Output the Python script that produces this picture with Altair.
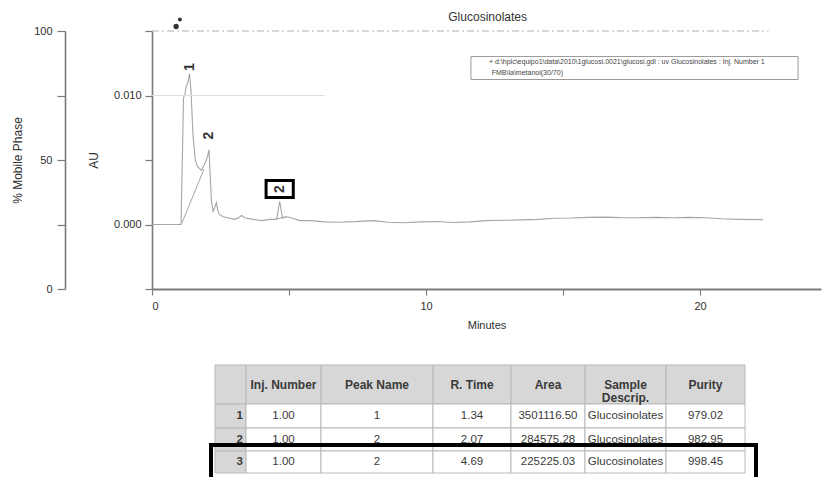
import altair as alt
import pandas as pd

FONT = "Liberation Sans"

# ---------------- chromatogram data ----------------
TIME = [0.0, 0.5, 1.06, 1.15, 1.20, 1.25, 1.31, 1.37, 1.42, 1.50,
        1.58, 1.66, 1.80, 1.90, 1.98, 2.03, 2.08, 2.12, 2.17, 2.23,
        2.30, 2.35, 2.40, 2.45, 2.60, 2.80, 3.00, 3.15, 3.27, 3.40,
        3.70, 4.00, 4.30, 4.55, 4.66, 4.76, 4.90, 5.10, 5.40, 5.80,
        6.30, 6.80, 7.40, 8.10, 8.60, 9.20, 9.80, 10.40, 11.00, 11.60,
        12.20, 12.90, 13.50, 14.10, 14.70, 15.30, 15.90, 16.50, 17.10, 17.70,
        18.40, 19.00, 19.60, 20.20, 20.80, 21.40, 22.30]
AU = [0.0, 0.0, 0.0, 0.0098, 0.0101, 0.0107, 0.0110, 0.0117, 0.0105, 0.0068,
      0.0050, 0.0045, 0.0042, 0.0046, 0.0050, 0.0053, 0.0058, 0.0040, 0.0018, 0.0010,
      0.0014, 0.0017, 0.0011, 0.0008, 0.0006, 0.0005, 0.0004, 0.0005, 0.0007, 0.0005,
      0.0004, 0.0003, 0.0004, 0.0004, 0.0018, 0.0005, 0.0006, 0.0005, 0.0003, 0.0003,
      0.0002, 0.00018, 0.00022, 0.0003, 0.00018, 0.00013, 0.0002, 0.00023, 0.00015, 0.0002,
      0.0003, 0.00033, 0.00036, 0.0004, 0.00048, 0.0005, 0.00055, 0.00057, 0.00053, 0.00052,
      0.00055, 0.00052, 0.00055, 0.00052, 0.00044, 0.0004, 0.00038]

# integration baselines (segment id, time, AU)
INTEG_SEG = [1, 1, 2, 2]
INTEG_T = [1.07, 1.90, 4.50, 4.90]
INTEG_AU = [0.0, 0.0043, 0.0004, 0.0006]

# peak labels
PEAK_LABELS = ["1", "2"]
PEAK_LABEL_T = [1.39, 2.07]
PEAK_LABEL_AU = [0.0122, 0.0069]
BOXED_LABEL = ["2"]
BOXED_T = [4.66]
BOXED_AU = [0.00275]

# injection marker above the plot
MARK_T = [0.88, 1.02]
MARK_AU = [0.01535, 0.0159]
MARK_SIZE = [28, 16]

# faint reference line at 0.010 AU
FAINT_T = [0.0, 6.3]
FAINT_AU = [0.010, 0.010]

# mobile phase line (%)
MP_T = [0.0, 22.5]
MP_PCT = [100, 100]

# chart title, placed above the plot
TITLE = ["Glucosinolates"]
TITLE_T = [12.25]
TITLE_AU = [0.01608]

# legend box
LEGEND_T = [11.64, 23.58]
LEGEND_AU = [0.01124, 0.01302]
LEGEND_LINES = [r"+ d:\hplc\equipo1\data\2010\1glucosi.0021\glucosi.gdl : uv   Glucosinolates : Inj. Number 1",
                r"FMB\la\metanol(30/70)"]
LEGEND_LINE_T = [12.30, 12.40]
LEGEND_LINE_AU = [0.01256, 0.01171]

# ---------------- table data ----------------
COL_HEADERS = ["", "Inj. Number", "Peak Name", "R. Time", "Area", "Sample\nDescrip.", "Purity"]
ROW_NUM = ["1", "2", "3"]
INJ = ["1.00", "1.00", "1.00"]
PEAK = ["1", "2", "2"]
RTIME = ["1.34", "2.07", "4.69"]
AREA = ["3501116.50", "284575.28", "225225.03"]
SAMPLE = ["Glucosinolates", "Glucosinolates", "Glucosinolates"]
PURITY = ["979.02", "982.95", "998.45"]
HIGHLIGHT_ROW = 3

# ---------------- layout ----------------
W, H = 669, 258
PX_PER_MIN = 27.4
X_DOMAIN = [0, W / PX_PER_MIN]
AU_DOMAIN = [-0.005, 0.015]
COL_W = [31, 75, 112, 78, 74, 81, 79]
ROW_H = [39, 24, 23, 22]
TABLE_LEFT = 63      # px from plot left
TABLE_TOP = 334      # px from plot top
BOX_PAD_L, BOX_PAD_R, BOX_PAD_T, BOX_EXTRA_B = 4, 11, 6, 40

AXIS_COLOR = "#7a7a7a"
TEXT_COLOR = "#2e2e2e"
TRACE_COLOR = "#a6a6a6"

# ---------------- chromatogram layer ----------------
xs = alt.Scale(domain=X_DOMAIN, nice=False, zero=False)
ys = alt.Scale(domain=AU_DOMAIN, nice=False, zero=False)

x_axis = alt.Axis(values=[0, 5, 10, 15, 20],
                  labelExpr="datum.value % 10 === 0 ? datum.label : ''",
                  title="Minutes", tickSize=6, labelPadding=5, titlePadding=8,
                  domainColor=AXIS_COLOR, domainWidth=1.8, tickColor=AXIS_COLOR,
                  tickWidth=1.2, labelColor=TEXT_COLOR, labelFontSize=11,
                  labelFont=FONT, titleFont=FONT, titleFontSize=11,
                  titleFontWeight="normal", titleColor=TEXT_COLOR, grid=False)
y_axis = alt.Axis(values=[-0.005, 0, 0.005, 0.01, 0.015], format=".3f",
                  labelExpr="(datum.value == 0 || datum.value == 0.01) ? datum.label : ''",
                  title="AU", tickSize=7, labelPadding=4, titlePadding=13,
                  domainColor=AXIS_COLOR, domainWidth=1.6, tickColor=AXIS_COLOR,
                  tickWidth=1.2, labelColor=TEXT_COLOR, labelFontSize=11,
                  labelFont=FONT, titleFont=FONT, titleFontSize=12,
                  titleFontWeight="normal", titleColor=TEXT_COLOR, grid=False)

trace_df = pd.DataFrame({"t": TIME, "au": AU})
trace = alt.Chart(trace_df).mark_line(color=TRACE_COLOR, strokeWidth=1.1).encode(
    x=alt.X("t:Q", scale=xs, axis=x_axis),
    y=alt.Y("au:Q", scale=ys, axis=y_axis),
)

integ_df = pd.DataFrame({"seg": INTEG_SEG, "t": INTEG_T, "au": INTEG_AU})
integ = alt.Chart(integ_df).mark_line(color=TRACE_COLOR, strokeWidth=1).encode(
    x="t:Q", y="au:Q", detail="seg:N")

faint_df = pd.DataFrame({"t": FAINT_T, "au": FAINT_AU})
faint = alt.Chart(faint_df).mark_line(color="#e0e0e0", strokeWidth=1).encode(
    x="t:Q", y="au:Q")

lab_df = pd.DataFrame({"t": PEAK_LABEL_T, "au": PEAK_LABEL_AU, "lab": PEAK_LABELS})
labels = alt.Chart(lab_df).mark_text(angle=270, font=FONT, fontSize=14,
                                     fontWeight="bold", color="#333333").encode(
    x="t:Q", y="au:Q", text="lab:N")

box_df = pd.DataFrame({"t": BOXED_T, "au": BOXED_AU, "lab": BOXED_LABEL})
boxframe = alt.Chart(box_df).mark_point(
    shape="M-1.6,-1H1.6V1H-1.6Z", size=289, filled=True, fill="white",
    stroke="black", strokeWidth=3, opacity=1).encode(x="t:Q", y="au:Q")
boxtext = alt.Chart(box_df).mark_text(angle=270, font=FONT, fontSize=14,
                                      fontWeight="bold", color="#333333").encode(
    x="t:Q", y="au:Q", text="lab:N")

mark_df = pd.DataFrame({"t": MARK_T, "au": MARK_AU, "s": MARK_SIZE})
marker = alt.Chart(mark_df).mark_point(filled=True, color="#333333", opacity=1).encode(
    x="t:Q", y="au:Q", size=alt.Size("s:Q", scale=None, legend=None))

title_df = pd.DataFrame({"t": TITLE_T, "au": TITLE_AU, "txt": TITLE})
title = alt.Chart(title_df).mark_text(font=FONT, fontSize=12, color="#333333").encode(
    x="t:Q", y="au:Q", text="txt:N")

leg_box_df = pd.DataFrame({"t": [LEGEND_T[0]], "t2": [LEGEND_T[1]],
                           "au": [LEGEND_AU[0]], "au2": [LEGEND_AU[1]]})
leg_box = alt.Chart(leg_box_df).mark_rect(filled=False, stroke="#9a9a9a",
                                          strokeWidth=1).encode(
    x="t:Q", x2="t2:Q", y="au:Q", y2="au2:Q")
leg_txt_df = pd.DataFrame({"t": LEGEND_LINE_T, "au": LEGEND_LINE_AU, "txt": LEGEND_LINES})
leg_txt = alt.Chart(leg_txt_df).mark_text(align="left", font=FONT, fontSize=7,
                                          color="#444444").encode(
    x="t:Q", y="au:Q", text="txt:N")

chrom = alt.layer(trace, faint, integ, labels, boxframe, boxtext, marker, title,
                  leg_box, leg_txt)

# ---------------- mobile phase layer ----------------
mp_df = pd.DataFrame({"t": MP_T, "pct": MP_PCT})
mp = alt.Chart(mp_df).mark_line(color="#b0b0b0", strokeWidth=1,
                                strokeDash=[7, 3, 2, 3]).encode(
    x=alt.X("t:Q", scale=alt.Scale(domain=X_DOMAIN, nice=False, zero=False), axis=None),
    y=alt.Y("pct:Q", scale=alt.Scale(domain=[0, 100], nice=False),
            axis=alt.Axis(orient="left", offset=87, values=[0, 25, 50, 75, 100],
                          labelExpr="datum.value % 50 === 0 ? datum.label : ''",
                          title="% Mobile Phase", tickSize=8, labelPadding=5,
                          titlePadding=9, domainColor=AXIS_COLOR, domainWidth=1.6,
                          tickColor=AXIS_COLOR, tickWidth=1.2, labelColor=TEXT_COLOR,
                          labelFontSize=11, labelFont=FONT, titleFont=FONT,
                          titleFontSize=12, titleFontWeight="normal",
                          titleColor=TEXT_COLOR, grid=False)),
)

# ---------------- table layer ----------------
col_edges = [0]
for w in COL_W:
    col_edges.append(col_edges[-1] + w)
row_edges = [0]
for h in ROW_H:
    row_edges.append(row_edges[-1] + h)

body_cols = [ROW_NUM, INJ, PEAK, RTIME, AREA, SAMPLE, PURITY]
cells = []
for r in range(4):
    for c in range(7):
        if r == 0:
            txt, kind = COL_HEADERS[c], "head"
        else:
            txt = body_cols[c][r - 1]
            kind = "head" if c == 0 else "body"
        cells.append({
            "x0": col_edges[c], "x1": col_edges[c + 1],
            "y0": row_edges[r], "y1": row_edges[r + 1],
            "cx": (col_edges[c] + col_edges[c + 1]) / 2,
            "rx": col_edges[c + 1] - 3,
            "cy": (row_edges[r] + row_edges[r + 1]) / 2,
            "txt": txt, "kind": kind,
            "role": "header" if r == 0 else ("rownum" if c == 0 else "body"),
        })
cell_df = pd.DataFrame(cells)

tx = alt.Scale(domain=[0, col_edges[-1]], range=[TABLE_LEFT, TABLE_LEFT + col_edges[-1]],
               nice=False, zero=False)
ty = alt.Scale(domain=[0, row_edges[-1]], range=[TABLE_TOP, TABLE_TOP + row_edges[-1]],
               nice=False, zero=False)

cell_rect = alt.Chart(cell_df).mark_rect(stroke="#b9b9b9", strokeWidth=1).encode(
    x=alt.X("x0:Q", scale=tx, axis=None), x2="x1:Q",
    y=alt.Y("y0:Q", scale=ty, axis=None), y2="y1:Q",
    fill=alt.Fill("kind:N", scale=alt.Scale(domain=["head", "body"],
                                            range=["#d7d7d7", "#ffffff"]), legend=None))
head_txt = alt.Chart(cell_df).transform_filter("datum.role == 'header'").mark_text(
    font=FONT, fontSize=12, fontWeight="bold", color="#3a3a3a", lineBreak="\n",
    lineHeight=13).encode(x="cx:Q", y="cy:Q", text="txt:N")
body_txt = alt.Chart(cell_df).transform_filter("datum.role == 'body'").mark_text(
    font=FONT, fontSize=11.5, color="#3a3a3a").encode(x="cx:Q", y="cy:Q", text="txt:N")
num_txt = alt.Chart(cell_df).transform_filter("datum.role == 'rownum'").mark_text(
    font=FONT, fontSize=11.5, fontWeight="bold", color="#3a3a3a", align="right").encode(
    x="rx:Q", y="cy:Q", text="txt:N")

hl_df = pd.DataFrame({"x0": [-BOX_PAD_L], "x1": [col_edges[-1] + BOX_PAD_R],
                      "y0": [row_edges[HIGHLIGHT_ROW] - BOX_PAD_T],
                      "y1": [row_edges[HIGHLIGHT_ROW + 1] + BOX_EXTRA_B]})
hl = alt.Chart(hl_df).mark_rect(filled=False, stroke="black", strokeWidth=4).encode(
    x="x0:Q", x2="x1:Q", y="y0:Q", y2="y1:Q")

table = alt.layer(cell_rect, head_txt, body_txt, num_txt, hl)

chart = alt.layer(chrom, mp, table).resolve_scale(
    x="independent", y="independent", size="independent", fill="independent"
).properties(
    width=W, height=H,
    padding={"left": 3, "top": 3, "right": 2, "bottom": 5},
).configure_view(stroke=None)

chart.save("out.html", embed_options={"renderer": "svg", "actions": False})
